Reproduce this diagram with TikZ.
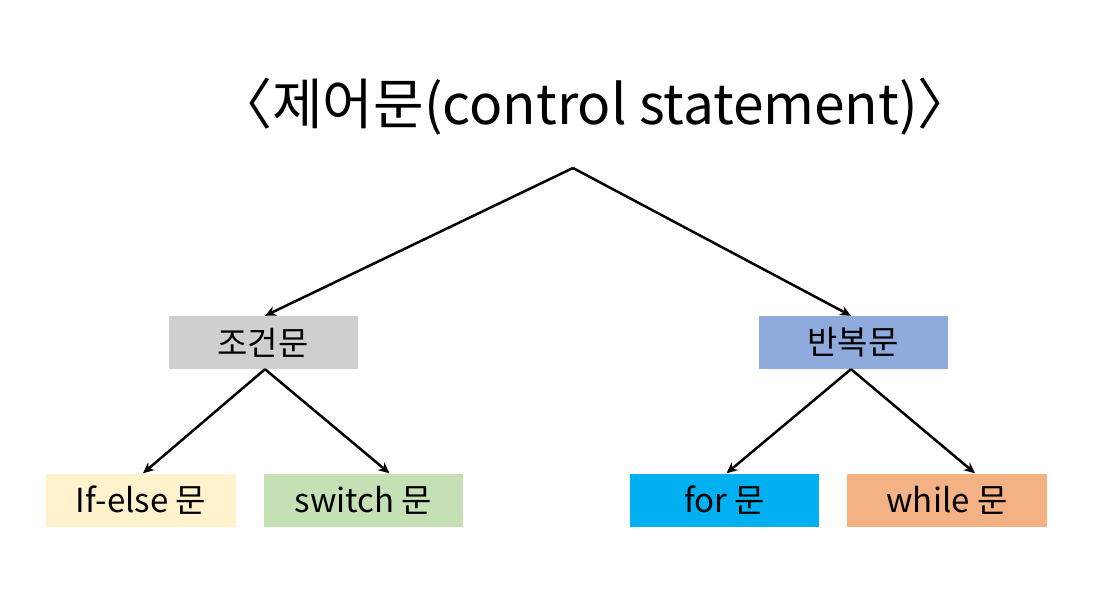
\documentclass[tikz,border=0pt]{standalone}
\usepackage{fontspec}
\setmainfont{Noto Sans CJK KR}
\usetikzlibrary{arrows.meta}
\definecolor{cgray}{RGB}{208,206,206}
\definecolor{cblue}{RGB}{143,170,220}
\definecolor{cyellow}{RGB}{255,242,204}
\definecolor{cgreen}{RGB}{197,224,180}
\definecolor{ccyan}{RGB}{0,176,240}
\definecolor{corange}{RGB}{244,177,131}
\begin{document}
\begin{tikzpicture}[x=1pt,y=-1pt,
  box/.style={minimum width=189pt,minimum height=53pt,inner sep=0pt,font=\fontsize{33}{36}\selectfont},
  arr/.style={-{Stealth[length=11pt,width=10pt]},line width=2.5pt}]
\useasboundingbox (0,0) rectangle (1119,593);
\node[font=\fontsize{55}{60}\selectfont] (title) at (595,107) {〈제어문(control statement)〉};
\coordinate (apex) at (573,168);
\node[box,fill=cgray] (cond) at (263,342.5) {조건문};
\node[box,fill=cblue] (loop) at (853,342.5) {반복문};
\node[box,fill=cyellow,minimum width=190pt] (ifelse) at (141,500) {If-else 문};
\node[box,fill=cgreen,minimum width=199pt] (switch) at (363.5,500) {switch 문};
\node[box,fill=ccyan] (for) at (724.5,500) {for 문};
\node[box,fill=corange,minimum width=200pt] (while) at (947,500) {while 문};
\draw[arr] (apex) -- ([xshift=2pt]cond.north);
\draw[arr] (apex) -- ([xshift=-2pt]loop.north);
\draw[arr] ([xshift=2pt]cond.south) -- ([xshift=2pt]ifelse.north);
\draw[arr] ([xshift=2pt]cond.south) -- ([xshift=26pt]switch.north);
\draw[arr] ([xshift=-2pt]loop.south) -- ([xshift=2pt]for.north);
\draw[arr] ([xshift=-2pt]loop.south) -- ([xshift=28pt]while.north);
\end{tikzpicture}
\end{document}
